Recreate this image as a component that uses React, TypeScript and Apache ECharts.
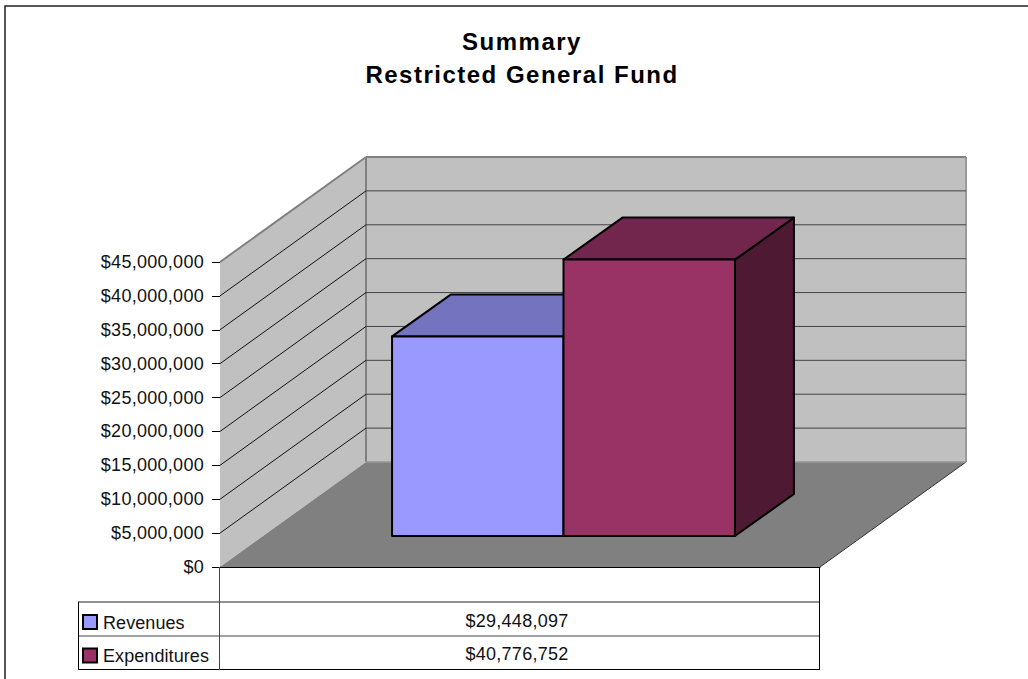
import React, { useEffect, useRef } from "react";
import * as echarts from "echarts";

const titleLines = ["Summary", "Restricted General Fund"];
const category = [""];
const seriesNames = ["Revenues", "Expenditures"];
const revenues = [29448097];
const expenditures = [40776752];
const tickValues = [0, 5000000, 10000000, 15000000, 20000000, 25000000, 30000000, 35000000, 40000000, 45000000];
const frontColors = ["#9999FF", "#993366"];
const topColors = ["#7373BF", "#73264D"];
const sideColors = ["#4D4D80", "#4D1933"];

const WALL_DX = 146, WALL_DY = -105;
const GAP_DX = 43.5, GAP_DY = -31;
const BAR_DX = 59, BAR_DY = -42;
const FONT = '"Liberation Sans", Arial, sans-serif';

const money = (v: number) => "$" + v.toLocaleString("en-US");

function poly(points: number[][], fill: string, stroke?: string, lineWidth = 1) {
  return {
    type: "polygon",
    shape: { points },
    style: { fill, stroke: stroke ?? "none", lineWidth, lineJoin: "round" },
  };
}
function seg(a: number[], b: number[], stroke: string, lineWidth = 1) {
  return {
    type: "line",
    shape: { x1: a[0], y1: a[1], x2: b[0], y2: b[1] },
    style: { stroke, lineWidth },
  };
}

const wallItem = (params: any, api: any) => {
  const v = api.value(0);
  const size = api.size([1, 0])[0];
  const p0 = api.coord([0, 0]);
  const left = p0[0] - size / 2;
  const right = p0[0] + size / 2;
  const y = api.coord([0, v])[1];
  const children: any[] = [];
  if (params.dataIndex === 0) {
    const top = api.coord([0, tickValues[tickValues.length - 1]])[1];
    children.push(
      poly([[left, y], [left + WALL_DX, y + WALL_DY], [left + WALL_DX, top + WALL_DY], [left, top]], "#C0C0C0"),
      poly([[left + WALL_DX, y + WALL_DY], [right + WALL_DX, y + WALL_DY], [right + WALL_DX, top + WALL_DY], [left + WALL_DX, top + WALL_DY]], "#C0C0C0"),
      poly([[left, y], [right, y], [right + WALL_DX, y + WALL_DY], [left + WALL_DX, y + WALL_DY]], "#808080"),
      seg([left + WALL_DX, y + WALL_DY], [left + WALL_DX, top + WALL_DY], "#808080", 2),
      seg([right + WALL_DX, y + WALL_DY], [right + WALL_DX, top + WALL_DY], "#999999", 2),
      seg([right, y], [right + WALL_DX, y + WALL_DY], "#333333", 1),
      seg([left + WALL_DX, y + WALL_DY], [right + WALL_DX, y + WALL_DY], "#999999", 1.5)
    );
  } else if (params.dataIndex === tickValues.length - 1) {
    children.push(
      seg([left, y], [left + WALL_DX, y + WALL_DY], "#808080", 2),
      seg([left + WALL_DX, y + WALL_DY], [right + WALL_DX, y + WALL_DY], "#808080", 2)
    );
  } else {
    children.push(
      seg([left, y], [left + WALL_DX, y + WALL_DY], "#111111", 1),
      seg([left + WALL_DX, y + WALL_DY], [right + WALL_DX, y + WALL_DY], "#444444", 1)
    );
  }
  return { type: "group", children };
};

const barItem = (index: number) => (_params: any, api: any) => {
  const val = api.value(1);
  const base = api.coord([0, 0]);
  const top = api.coord([0, val]);
  const w = api.size([1, 0])[0] / 3.5;
  const x0 = base[0] - w + index * w + GAP_DX;
  const x1 = x0 + w;
  const y0 = base[1] + GAP_DY;
  const y1 = top[1] + GAP_DY;
  const stroke = "#000000";
  return {
    type: "group",
    children: [
      poly([[x1, y1], [x1 + BAR_DX, y1 + BAR_DY], [x1 + BAR_DX, y0 + BAR_DY], [x1, y0]], sideColors[index], stroke, 2),
      poly([[x0, y1], [x0 + BAR_DX, y1 + BAR_DY], [x1 + BAR_DX, y1 + BAR_DY], [x1, y1]], topColors[index], stroke, 2),
      poly([[x0, y0], [x1, y0], [x1, y1], [x0, y1]], frontColors[index], stroke, 2),
    ],
  };
};

export default function App() {
  const ref = useRef<HTMLDivElement>(null);
  useEffect(() => {
    document.body.style.margin = "0";
    const chart = echarts.init(ref.current!, undefined, { renderer: "svg" });
    const tableLine = (x1: number, y1: number, x2: number, y2: number, stroke = "#000000", w = 1) => ({
      type: "line",
      z: 10,
      shape: { x1, y1, x2, y2 },
      style: { stroke, lineWidth: w },
    });
    const txt = (text: string, x: number, y: number, align: string, font: string, fill = "#000000") => ({
      type: "text",
      z: 11,
      x,
      y,
      style: { text, font, fill, textAlign: align, textVerticalAlign: "middle" },
    });
    const values = [revenues[0], expenditures[0]];
    chart.setOption({
      animation: false,
      backgroundColor: "#FFFFFF",
      grid: { left: 220, right: 208, top: 262, bottom: 112, containLabel: false },
      xAxis: {
        type: "category",
        data: category,
        axisTick: { show: false },
        axisLabel: { show: false },
        axisLine: { show: true, onZero: false, lineStyle: { color: "#000000", width: 1 } },
      },
      yAxis: {
        type: "value",
        min: 0,
        max: 45000000,
        interval: 5000000,
        splitLine: { show: false },
        axisLine: { show: true, lineStyle: { color: "#333333", width: 1 } },
        axisTick: { show: true, length: 8, lineStyle: { color: "#000000", width: 1 } },
        axisLabel: { margin: 16, color: "#111111", fontFamily: "Liberation Sans", fontSize: 18, formatter: (v: number) => money(v) },
      },
      series: [
        { type: "custom", name: "walls", renderItem: wallItem, data: tickValues.map((v) => [v]), encode: { y: 0 }, silent: true, z: 1 },
        { type: "custom", name: seriesNames[0], renderItem: barItem(0), data: revenues.map((v, i) => [i, v]), encode: { x: 0, y: 1 }, z: 2 },
        { type: "custom", name: seriesNames[1], renderItem: barItem(1), data: expenditures.map((v, i) => [i, v]), encode: { x: 0, y: 1 }, z: 3 },
      ],
      graphic: [
        { type: "polyline", z: 9, shape: { points: [[5, 679], [5, 6], [1028, 6]] }, style: { stroke: "#222222", lineWidth: 1.5, fill: "none" } },
        txt(titleLines[0], 522, 41, "center", `bold 24px ${FONT}`),
        txt(titleLines[1], 522, 74, "center", `bold 24px ${FONT}`),
        tableLine(78, 602, 820, 602, "#222222"),
        tableLine(78, 636, 820, 636, "#444444"),
        tableLine(78, 669.5, 820, 669.5),
        tableLine(78.5, 602, 78.5, 670),
        tableLine(219.5, 567, 219.5, 670, "#444444"),
        tableLine(819.5, 567, 819.5, 670),
        { type: "rect", z: 11, shape: { x: 83, y: 615, width: 14, height: 14 }, style: { fill: frontColors[0], stroke: "#000", lineWidth: 2 } },
        { type: "rect", z: 11, shape: { x: 83, y: 648.5, width: 14, height: 14 }, style: { fill: frontColors[1], stroke: "#000", lineWidth: 2 } },
        txt(seriesNames[0], 103, 623, "left", `18px ${FONT}`, "#121212"),
        txt(seriesNames[1], 103, 656, "left", `18px ${FONT}`, "#121212"),
        txt(money(values[0]), 517, 621, "center", `18px ${FONT}`, "#111111"),
        txt(money(values[1]), 517, 654, "center", `18px ${FONT}`, "#111111"),
      ],
    });
    return () => chart.dispose();
  }, []);
  return (
    <>
      <style>{`svg text{letter-spacing:.28px} svg text[fill="#121212"]{letter-spacing:.08px} svg text[style*="bold"]{letter-spacing:1.5px}`}</style>
      <div ref={ref} style={{ width: 1028, height: 679 }} />
    </>
  );
}
